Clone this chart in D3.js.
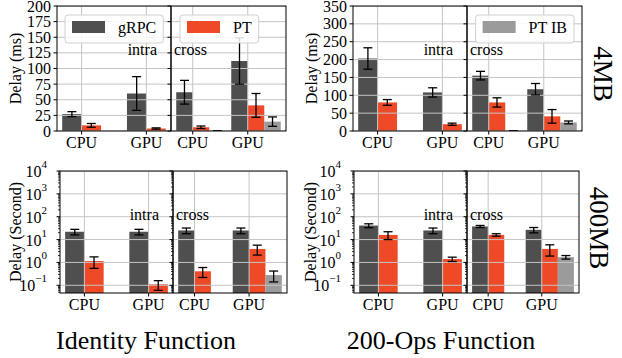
<!DOCTYPE html>
<html>
<head>
<meta charset="utf-8">
<script src="https://cdn.jsdelivr.net/npm/d3@7"></script>
<style>
  body { margin: 0; background: #fff; }
  text { font-family: "Liberation Serif", "Times New Roman", serif; fill: #000; }
</style>
</head>
<body>
<svg id="chart" width="622" height="358"></svg>
<script>
// categories and series
const categories = ['CPU', 'GPU'];
const series = ['gRPC', 'PT', 'PT IB'];
const seriesColors = ['#4f4f4f', '#ef4a28', '#9b9b9b'];

// Identity function, 4MB, delay (ms). rows = series, cols = categories
const id4mbIntraMean = [[27, 60], [9, 4]];
const id4mbIntraErr  = [[4, 27], [3, 1]];
const id4mbCrossMean = [[62, 112], [6, 41], [0, 15]];
const id4mbCrossErr  = [[19, 37], [2, 19], [0, 7.5]];

// 200-Ops function, 4MB, delay (ms)
const ops4mbIntraMean = [[203, 108], [80, 19]];
const ops4mbIntraErr  = [[30, 13], [8, 3]];
const ops4mbCrossMean = [[155, 117], [80, 41], [0, 24]];
const ops4mbCrossErr  = [[12, 16], [13, 19], [0, 4]];

// Identity function, 400MB, delay (s)
const id400IntraMean = [[22, 22], [1.15, 0.11]];
const id400IntraErr  = [[6, 6], [0.6, 0.05]];
const id400CrossMean = [[25, 25], [0.41, 3.9], [null, 0.28]];
const id400CrossErr  = [[7, 7], [0.19, 1.8], [null, 0.14]];

// 200-Ops function, 400MB, delay (s)
const ops400IntraMean = [[41, 25], [16, 1.4]];
const ops400IntraErr  = [[8, 7], [6, 0.3]];
const ops400CrossMean = [[37.5, 26.7], [16, 3.9], [null, 1.7]];
const ops400CrossErr  = [[4, 7], [2, 2], [null, 0.3]];

// axis ticks
const msTicksId = d3.range(0, 201, 25);
const msTicksOps = d3.range(0, 351, 50);
const logTicks = [1e-1, 1e0, 1e1, 1e2, 1e3, 1e4];

const svg = d3.select('#chart');
const barW = 0.3;
const capHalf = 4.5;

const panels = [
  { x0: 57, xDiv: 171, x1: 286, top: 6, bottom: 131, log: false, domain: [0, 200], ticks: msTicksId,
    intraMean: id4mbIntraMean, intraErr: id4mbIntraErr, crossMean: id4mbCrossMean, crossErr: id4mbCrossErr,
    ylabel: 'Delay (ms)', ylabelX: 15,
    legends: [{ side: 'intra', s: 0, x: 65 }, { side: 'cross', s: 1, x: 180 }] },
  { x0: 353, xDiv: 467, x1: 582, top: 6, bottom: 131, log: false, domain: [0, 350], ticks: msTicksOps,
    intraMean: ops4mbIntraMean, intraErr: ops4mbIntraErr, crossMean: ops4mbCrossMean, crossErr: ops4mbCrossErr,
    ylabel: 'Delay (ms)', ylabelX: 311,
    legends: [{ side: 'cross', s: 2, right: 574 }] },
  { x0: 60, xDiv: 173, x1: 287, top: 171, bottom: 293, log: true, domain: [0.046, 1e4], ticks: logTicks,
    intraMean: id400IntraMean, intraErr: id400IntraErr, crossMean: id400CrossMean, crossErr: id400CrossErr,
    ylabel: 'Delay (Second)', ylabelX: 15, legends: [] },
  { x0: 354, xDiv: 467, x1: 579, top: 171, bottom: 293, log: true, domain: [0.046, 1e4], ticks: logTicks,
    intraMean: ops400IntraMean, intraErr: ops400IntraErr, crossMean: ops400CrossMean, crossErr: ops400CrossErr,
    ylabel: 'Delay (Second)', ylabelX: 310, legends: [] }
];

panels.forEach((p, pi) => drawPanel(p, pi));

function drawPanel(p, pi) {
  const g = svg.append('g');
  const y = p.log
    ? d3.scaleLog().domain(p.domain).range([p.bottom, p.top])
    : d3.scaleLinear().domain(p.domain).range([p.bottom, p.top]);
  const base = y(p.domain[0]);

  const sides = [
    { name: 'intra', x: d3.scaleLinear().domain([-0.38, 1.38]).range([p.x0, p.xDiv]), mean: p.intraMean, err: p.intraErr },
    { name: 'cross', x: d3.scaleLinear().domain([-0.395, 1.695]).range([p.xDiv, p.x1]), mean: p.crossMean, err: p.crossErr }
  ];

  sides.forEach((side, si) => {
    const [r0, r1] = side.x.range();
    const clipId = `clip-${pi}-${si}`;
    g.append('clipPath').attr('id', clipId)
      .append('rect').attr('x', r0).attr('y', p.top).attr('width', r1 - r0).attr('height', p.bottom - p.top);
    const sg = g.append('g').attr('clip-path', `url(#${clipId})`);

    // bars
    side.mean.forEach((row, s) => {
      row.forEach((v, ci) => {
        if (v == null || v <= 0) return;
        const xa = side.x(ci + (s - 1) * barW), xb = side.x(ci + s * barW);
        sg.append('rect')
          .attr('x', xa).attr('width', xb - xa)
          .attr('y', y(v)).attr('height', base - y(v))
          .attr('fill', seriesColors[s]);
      });
    });

    // grid (drawn above bars like matplotlib's default)
    sg.selectAll('.hgrid').data(p.ticks).join('line')
      .attr('x1', r0).attr('x2', r1)
      .attr('y1', d => y(d)).attr('y2', d => y(d))
      .attr('stroke', '#c4c4c4').attr('stroke-width', 1);
    sg.selectAll('.vgrid').data(categories).join('line')
      .attr('x1', (d, i) => side.x(i)).attr('x2', (d, i) => side.x(i))
      .attr('y1', p.top).attr('y2', p.bottom)
      .attr('stroke', '#c4c4c4').attr('stroke-width', 1);

    // error bars
    side.mean.forEach((row, s) => {
      row.forEach((v, ci) => {
        if (v == null) return;
        const e = side.err[s][ci];
        const cx = side.x(ci + (s - 0.5) * barW);
        const lo = y(Math.max(v - e, p.log ? 1e-6 : -1e9)), hi = y(v + e);
        const eg = sg.append('g').attr('stroke', '#000').attr('stroke-width', 1.3);
        eg.append('line').attr('x1', cx).attr('x2', cx).attr('y1', lo).attr('y2', hi);
        [lo, hi].forEach(yy => eg.append('line')
          .attr('x1', cx - capHalf).attr('x2', cx + capHalf).attr('y1', yy).attr('y2', yy));
      });
    });

    // x ticks and labels
    categories.forEach((c, i) => {
      g.append('line').attr('x1', side.x(i)).attr('x2', side.x(i))
        .attr('y1', p.bottom).attr('y2', p.bottom + 3.5).attr('stroke', '#000').attr('stroke-width', 1);
      g.append('text').attr('x', side.x(i)).attr('y', p.bottom + 17)
        .attr('text-anchor', 'middle').attr('font-size', 16).text(c);
    });

    // y ticks on each subplot's left spine
    const yTickX = si === 0 ? p.x0 : p.xDiv;
    p.ticks.forEach(t => {
      g.append('line').attr('x1', yTickX - 3.5).attr('x2', yTickX)
        .attr('y1', y(t)).attr('y2', y(t)).attr('stroke', '#000').attr('stroke-width', 1);
    });
    if (p.log) {
      const minor = [];
      for (let e = -2; e < 4; e++) for (let m = 2; m < 10; m++) {
        const v = m * Math.pow(10, e);
        if (v >= p.domain[0] && v <= p.domain[1]) minor.push(v);
      }
      minor.forEach(t => g.append('line').attr('x1', yTickX - 2).attr('x2', yTickX)
        .attr('y1', y(t)).attr('y2', y(t)).attr('stroke', '#000').attr('stroke-width', 0.8));
    }

    // intra / cross annotation
    const lbl = g.append('text').attr('y', p.top + 49).attr('font-size', 16).text(side.name);
    if (si === 0) lbl.attr('x', p.xDiv - 14).attr('text-anchor', 'end');
    else lbl.attr('x', p.xDiv + 3);
  });

  // y tick labels
  p.ticks.forEach(t => {
    const tx = g.append('text').attr('x', p.x0 - 6).attr('y', y(t))
      .attr('text-anchor', 'end').attr('dominant-baseline', 'central').attr('font-size', 16);
    if (p.log) {
      const ex = Math.round(Math.log10(t));
      tx.attr('x', p.x0 - 13);
      tx.append('tspan').text('10');
      tx.append('tspan').attr('font-size', 11).attr('dy', -7).text(ex < 0 ? '\u2212' + (-ex) : ex);
    } else {
      tx.text(t);
    }
  });

  // frame
  g.append('rect').attr('x', p.x0).attr('y', p.top)
    .attr('width', p.x1 - p.x0).attr('height', p.bottom - p.top)
    .attr('fill', 'none').attr('stroke', '#000').attr('stroke-width', 1);
  g.append('line').attr('x1', p.xDiv).attr('x2', p.xDiv).attr('y1', p.top).attr('y2', p.bottom)
    .attr('stroke', '#000').attr('stroke-width', 1.5);

  // y label
  g.append('text')
    .attr('transform', `translate(${p.ylabelX},${(p.top + p.bottom) / 2}) rotate(-90)`)
    .attr('text-anchor', 'middle').attr('dominant-baseline', 'central').attr('font-size', 16)
    .text(p.ylabel);

  // legends
  p.legends.forEach(lg => {
    const lgG = g.append('g');
    const box = lgG.append('rect').attr('y', 15).attr('height', 28).attr('rx', 3)
      .attr('fill', '#fff').attr('fill-opacity', 0.85).attr('stroke', '#d0d0d0').attr('stroke-width', 1);
    const txt = lgG.append('text').attr('y', 33).attr('font-size', 16).text(series[lg.s]);
    const tw = txt.node().getComputedTextLength();
    const w = 7 + 33 + 13 + tw + 7;
    const bx = lg.x != null ? lg.x : lg.right - w;
    box.attr('x', bx).attr('width', w);
    lgG.append('rect').attr('x', bx + 7).attr('y', 21).attr('width', 33).attr('height', 12)
      .attr('fill', seriesColors[lg.s]);
    txt.attr('x', bx + 53);
  });
}

// column titles and row labels
svg.append('text').attr('x', 146).attr('y', 349).attr('text-anchor', 'middle')
  .attr('font-size', 26).text('Identity Function');
svg.append('text').attr('x', 441).attr('y', 349).attr('text-anchor', 'middle')
  .attr('font-size', 26).text('200-Ops Function');
svg.append('text').attr('transform', 'translate(603,74) rotate(90)')
  .attr('text-anchor', 'middle').attr('dominant-baseline', 'central').attr('font-size', 27).text('4MB');
svg.append('text').attr('transform', 'translate(599,228) rotate(90)')
  .attr('text-anchor', 'middle').attr('dominant-baseline', 'central').attr('font-size', 27).text('400MB');
</script>
</body>
</html>
